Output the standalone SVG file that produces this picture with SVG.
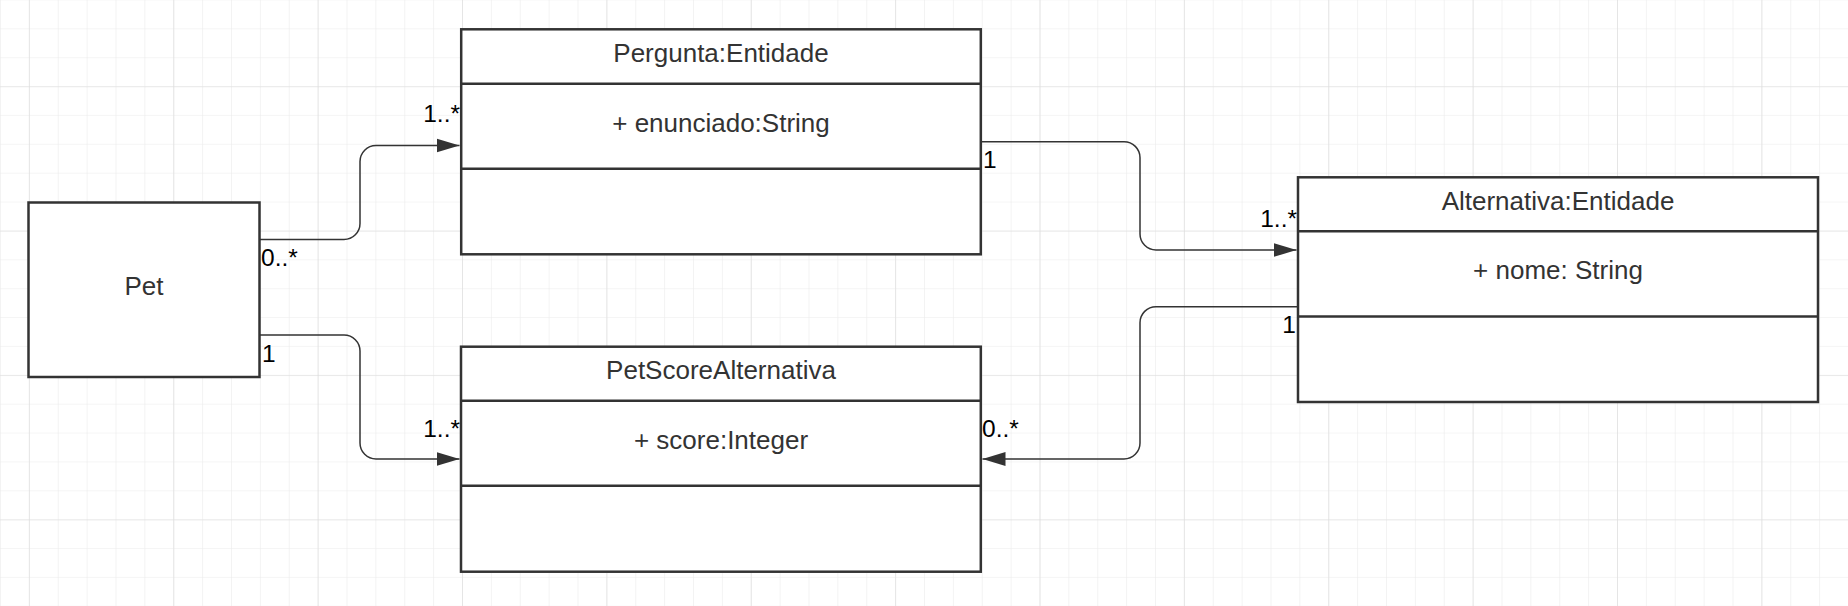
<svg xmlns="http://www.w3.org/2000/svg" width="1848" height="606" viewBox="0 0 1848 606">
<style>
.box{fill:#fff;stroke:#333;stroke-width:2.5}
.div{stroke:#333;stroke-width:2.5}
.lbl{font-family:"Liberation Sans",Arial,sans-serif;font-size:26px;fill:#333;text-anchor:middle}
.mul{font-family:"Liberation Sans",Arial,sans-serif;font-size:24.5px;fill:#000}
.end{text-anchor:end}
.con{fill:none;stroke:#333;stroke-width:1.5}
</style>
<defs>
<pattern id="minor" x="28.875" y="28.3" width="28.875" height="28.875" patternUnits="userSpaceOnUse">
<path d="M0,0 V28.875 M0,0 H28.875" fill="none" stroke="#ebebeb" stroke-width="1.2"/>
</pattern>
<pattern id="major" x="28.875" y="86.3" width="144.375" height="144.375" patternUnits="userSpaceOnUse">
<path d="M0,0 V144.375 M0,0 H144.375" fill="none" stroke="#dcdcdc" stroke-width="1.2"/>
</pattern>
<marker id="arrow" markerUnits="userSpaceOnUse" markerWidth="24" markerHeight="16" refX="23" refY="7" orient="auto" viewBox="0 0 24 14">
<path d="M0,0 L23,7 L0,14 Z" fill="#333"/>
</marker>
</defs>
<rect width="1848" height="606" fill="#fff"/>
<rect width="1848" height="606" fill="url(#minor)"/>
<rect width="1848" height="606" fill="url(#major)"/>

<g id="connectors">
<path class="con" d="M259,239.5 H344 A16,16 0 0 0 360,223.5 V161.5 A16,16 0 0 1 376,145.5 H459.5" marker-end="url(#arrow)"/>
<path class="con" d="M259,335 H344 A16,16 0 0 1 360,351 V443 A16,16 0 0 0 376,459 H459.5" marker-end="url(#arrow)"/>
<path class="con" d="M981,141.7 H1124 A16,16 0 0 1 1140,157.7 V234 A16,16 0 0 0 1156,250 H1296.5" marker-end="url(#arrow)"/>
<path class="con" d="M1298,306.7 H1156 A16,16 0 0 0 1140,322.7 V443 A16,16 0 0 1 1124,459 H982.5" marker-end="url(#arrow)"/>
<text class="mul" x="261" y="266">0..*</text>
<text class="mul" x="262" y="361.7">1</text>
<text class="mul end" x="460" y="121.7">1..*</text>
<text class="mul end" x="460" y="436.7">1..*</text>
<text class="mul" x="983" y="168.3">1</text>
<text class="mul end" x="1297" y="226.7">1..*</text>
<text class="mul end" x="1296" y="333.3">1</text>
<text class="mul" x="982" y="436.7">0..*</text>
</g>

<g id="pet">
<rect class="box" x="28.5" y="202.5" width="231" height="174.5"/>
<text class="lbl" x="144" y="295">Pet</text>
</g>

<g id="pergunta">
<rect class="box" x="461.2" y="29.3" width="519.6" height="225"/>
<line class="div" x1="461.2" y1="83.8" x2="980.8" y2="83.8"/>
<line class="div" x1="461.2" y1="168.8" x2="980.8" y2="168.8"/>
<text class="lbl" x="721" y="61.7">Pergunta:Entidade</text>
<text class="lbl" x="721" y="131.7">+ enunciado:String</text>
</g>

<g id="petscore">
<rect class="box" x="461" y="346.7" width="519.8" height="225"/>
<line class="div" x1="461" y1="400.8" x2="980.8" y2="400.8"/>
<line class="div" x1="461" y1="485.8" x2="980.8" y2="485.8"/>
<text class="lbl" x="721" y="379.3">PetScoreAlternativa</text>
<text class="lbl" x="721" y="449.3">+ score:Integer</text>
</g>

<g id="alternativa">
<rect class="box" x="1298" y="177.3" width="520" height="224.7"/>
<line class="div" x1="1298" y1="231.3" x2="1818" y2="231.3"/>
<line class="div" x1="1298" y1="316.5" x2="1818" y2="316.5"/>
<text class="lbl" x="1558" y="210">Alternativa:Entidade</text>
<text class="lbl" x="1558" y="279.3">+ nome: String</text>
</g>
</svg>
